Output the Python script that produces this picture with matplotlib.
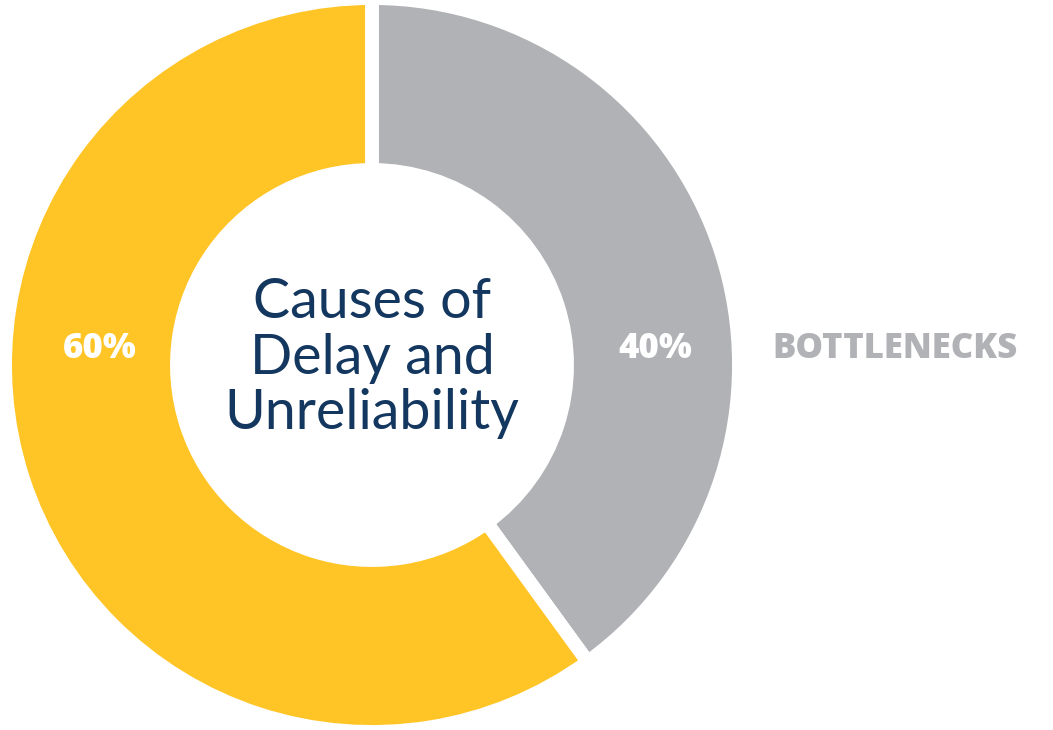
import matplotlib
matplotlib.use("Agg")
import matplotlib.pyplot as plt

# Dados do gráfico (ordem horária a partir do topo)
categories = ["BOTTLENECKS", ""]
values = [40, 60]
pct_labels = ["40%", "60%"]
colors = ["#B1B2B6", "#FFC425"]
center_text = "Causes of\nDelay and\nUnreliability"

plt.rcParams['font.family'] = ['Lato', 'DejaVu Sans']
label_font = ['Open Sans', 'DejaVu Sans']

W, H = 1053, 730
fig = plt.figure(figsize=(W / 100, H / 100), dpi=100)
ax = fig.add_axes([0, 0, 1, 1])

cx, cy = 372, H - 365
r_out = 367
ring = 172

ax.pie(values, colors=colors, center=(cx, cy), radius=r_out,
       startangle=90, counterclock=False,
       wedgeprops=dict(width=ring, edgecolor='white', linewidth=10),
       frame=True)
ax.set_xlim(0, W)
ax.set_ylim(0, H)
ax.set_aspect('equal')
ax.axis('off')

# rótulos de porcentagem
ax.text(655, H - 349, pct_labels[0], color='white', fontsize=25, fontweight=800,
        family=label_font, ha='center', va='center')
ax.text(100, H - 349, pct_labels[1], color='white', fontsize=25, fontweight=800,
        family=label_font, ha='center', va='center')
ax.text(772, H - 349, categories[0], color=colors[0], fontsize=25, fontweight=800,
        family=label_font, ha='left', va='center')

ax.text(cx, H - 358, center_text, color='#14375F', fontsize=40, ha='center', va='center',
        linespacing=1.1)

fig.savefig("out.png", dpi=100)
